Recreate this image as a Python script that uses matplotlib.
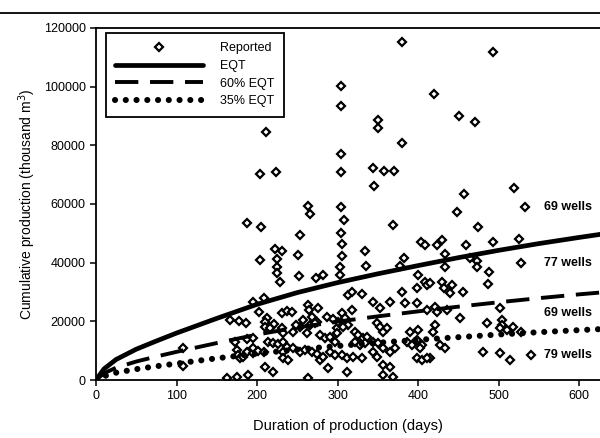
import matplotlib
matplotlib.use("Agg")
import matplotlib.pyplot as plt
from matplotlib.lines import Line2D

plt.rcParams['font.family'] = ['Liberation Sans', 'DejaVu Sans']

# reported wells: duration (days), cumulative production (thousand m3)
rep_days = [211, 204, 224, 304, 304, 350, 350, 304, 304, 344, 358, 370, 345, 380, 493,
            420, 451, 471, 380, 457, 519, 448, 533, 304, 308, 263, 266, 188, 205, 253,
            304, 222, 231, 305, 306, 369, 334, 404, 409, 383, 335, 378, 475, 424, 430,
            460, 493, 434, 434, 465, 473, 473, 488, 487, 528, 525, 204, 225, 225, 225,
            229, 251, 252, 273, 282, 303, 303, 400, 409, 411, 399, 380, 313, 318, 330,
            344, 365, 384, 399, 318, 353, 411, 415, 430, 432, 442, 440, 456, 421, 423,
            436, 502, 452, 486, 504, 504, 502, 510, 518, 421, 419, 427, 434, 481, 502,
            514, 415, 528, 540,
            195, 209, 203, 212, 210, 221, 231, 237, 243, 263, 265, 276, 268, 274,
            167, 178, 186, 173, 188, 175, 176, 179, 188, 108, 108, 163, 175, 189, 183, 195,
            210, 216, 231, 232, 245, 253, 266, 272, 195, 201, 209, 214, 220, 226, 232, 237,
            232, 245, 253, 260, 268, 275, 278, 284, 291, 297, 278, 282, 232, 239, 210, 220,
            263, 288, 291, 297, 299, 301, 299,
            306, 309, 313, 307, 322, 325, 332, 337, 349, 353, 362, 357, 322, 328, 334, 344,
            350, 357, 365, 371, 386, 393, 399, 405, 306, 312, 319, 330, 344, 349, 357, 365,
            312, 357, 369, 399, 405, 411, 390, 400, 402,
            195, 262, 287, 294, 257, 248]
rep_prod = [84.5, 70.2, 70.9, 100.2, 93.4, 88.6, 85.9, 77.0, 70.9, 72.2, 71.2, 71.2, 66.3, 115.2, 111.7,
            97.4, 90.0, 87.9, 80.7, 63.4, 65.4, 57.2, 58.9, 58.9, 54.5, 59.4, 56.7, 53.5, 52.1, 49.4,
            50.2, 44.6, 43.9, 46.5, 42.2, 52.8, 44.0, 47.0, 46.0, 41.6, 38.8, 38.8, 52.1, 46.0, 47.7,
            46.0, 47.2, 42.9, 38.5, 41.6, 40.5, 38.5, 36.8, 32.7, 40.0, 48.2, 40.9, 41.2, 38.5, 36.6,
            33.4, 42.6, 35.6, 34.8, 35.8, 38.5, 35.8, 35.8, 33.4, 32.4, 31.3, 30.0, 29.0, 30.0, 29.3,
            26.6, 26.6, 26.2, 26.2, 23.8, 24.5, 23.8, 33.1, 33.4, 31.3, 32.4, 29.6, 30.0, 24.9, 23.2,
            23.8, 24.5, 21.3, 19.4, 20.4, 18.7, 17.7, 17.0, 18.1, 18.7, 16.4, 11.9, 10.9, 9.7, 9.2,
            6.7, 7.5, 16.4, 8.5,
            26.6, 27.9, 23.2, 21.1, 19.8, 19.1, 22.8, 23.5, 23.2, 25.5, 23.8, 24.5, 21.5, 19.8,
            20.4, 20.0, 19.4, 12.9, 14.0, 10.2, 8.5, 7.5, 9.5, 10.9, 4.8, 0.7, 1.0, 1.8, 7.8, 9.2,
            18.1, 17.7, 17.7, 16.0, 16.4, 18.1, 18.8, 19.4, 10.9, 9.9, 9.5, 13.0, 12.6, 12.3, 13.0, 11.3,
            9.5, 10.9, 9.5, 10.2, 9.5, 8.9, 15.3, 14.3, 14.7, 13.0, 6.8, 7.8, 7.5, 6.8, 4.4, 2.7,
            0.7, 4.1, 9.5, 8.5, 17.7, 19.8, 16.0,
            22.8, 21.1, 18.8, 18.1, 16.4, 15.3, 14.3, 14.7, 19.4, 18.1, 17.7, 16.4, 13.0, 11.9, 12.6, 13.0,
            12.6, 10.9, 9.5, 10.9, 13.0, 11.9, 13.6, 11.9, 8.5, 7.5, 7.8, 7.5, 9.5, 7.8, 5.1, 4.4,
            2.7, 1.7, 1.0, 7.5, 6.8, 7.5, 16.4, 17.0, 10.9,
            14.3, 16.0, 21.5, 20.8, 20.4, 18.8]

# model curves
curve_days = [0, 10, 25, 50, 75, 100, 150, 200, 250, 300, 350, 400, 450, 500, 550, 600, 630]
eqt = [0, 3.8, 7.0, 10.5, 13.3, 16.0, 21.0, 25.8, 29.8, 33.2, 36.2, 39.0, 41.7, 44.2, 46.5, 48.6, 49.8]
eqt60 = [0, 2.3, 4.2, 6.3, 8.0, 9.6, 12.6, 15.5, 17.9, 19.9, 21.7, 23.4, 25.0, 26.5, 27.9, 29.2, 29.9]
eqt35 = [0, 1.3, 2.5, 3.7, 4.7, 5.6, 7.4, 9.0, 10.4, 11.6, 12.7, 13.7, 14.6, 15.5, 16.3, 17.0, 17.4]

well_labels = ['69 wells', '77 wells', '69 wells', '79 wells']
well_label_days = [556, 556, 556, 556]
well_label_prod = [59.0, 40.0, 23.0, 8.5]

fig = plt.figure(figsize=(6, 4.38), dpi=100)
ax = fig.add_axes([0.16, 0.1324, 0.84, 0.8037])

to_units = lambda v: [p * 1000 for p in v]

ax.plot(rep_days, to_units(rep_prod), linestyle='none', marker='D', markersize=3.6,
        markerfacecolor='white', markeredgecolor='black', markeredgewidth=1.6, label='Reported')
ax.plot(curve_days, to_units(eqt), color='black', lw=3.4, solid_capstyle='round', label='EQT')
ax.plot(curve_days, to_units(eqt60), color='black', lw=2.8, linestyle=(0, (6, 3)), label='60% EQT')
ax.plot(curve_days, to_units(eqt35), color='black', lw=4.4, linestyle=(0, (0.01, 1.75)),
        dash_capstyle='round', label='35% EQT')

for lab, xd, yd in zip(well_labels, well_label_days, well_label_prod):
    ax.text(xd, yd * 1000, lab, fontsize=9, fontweight='bold', va='center', ha='left')

ax.set_xlim(0, 626)
ax.set_ylim(0, 120000)
ax.set_xticks([0, 100, 200, 300, 400, 500, 600])
ax.set_yticks([0, 20000, 40000, 60000, 80000, 100000, 120000])
ax.tick_params(direction='out', length=4, width=1.1, labelsize=9)
ax.spines['right'].set_visible(False)
for s in ['left', 'bottom', 'top']:
    ax.spines[s].set_linewidth(1.3)

ax.set_xlabel('Duration of production (days)', fontsize=10.5, labelpad=12)
ax.set_ylabel('Cumulative production (thousand m$^3$)', fontsize=10, labelpad=4)

leg = ax.legend(loc='upper left', bbox_to_anchor=(0.02, 0.986), borderaxespad=0,
                fontsize=9, numpoints=1, handlelength=7, handletextpad=1.4,
                labelspacing=0.45, borderpad=0.75,
                fancybox=False, framealpha=1, edgecolor='black')
leg.get_frame().set_linewidth(1.3)

# page border line above the chart
fig.add_artist(Line2D([0, 1], [0.970, 0.970], color='black', lw=1.3))

fig.savefig('out.png', dpi=100)
